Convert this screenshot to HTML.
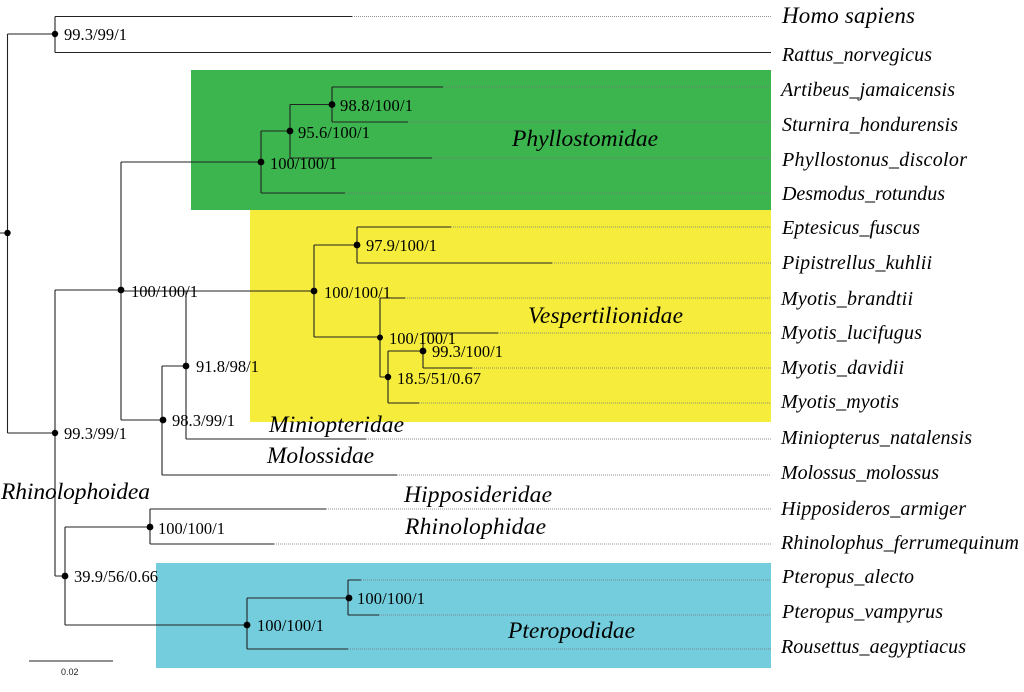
<!DOCTYPE html>
<html><head><meta charset="utf-8"><style>
html,body{margin:0;padding:0;background:#fff;width:1024px;height:692px;overflow:hidden}
svg{display:block}
.s{font-family:"Liberation Serif",serif;font-size:16.5px;fill:#000}
.t{font-family:"Liberation Serif",serif;font-style:italic;font-size:20px;fill:#000}
.f{font-family:"Liberation Serif",serif;font-style:italic;font-size:23.5px;fill:#000}
.l{fill:none;stroke:#222;stroke-width:1.1}
.d{fill:none;stroke:#777;stroke-width:1;stroke-dasharray:1 1;opacity:.8}
</style></head><body>
<svg width="1024" height="692" viewBox="0 0 1024 692" xmlns="http://www.w3.org/2000/svg">
<rect x="191" y="70" width="580" height="140" fill="#3cb54f"/>
<rect x="250" y="210" width="521" height="212" fill="#f5ec3b"/>
<rect x="156" y="563" width="615" height="105" fill="#74cddd"/>

<path class="d" d="M352 16.5H771M443 87H771M408 122H771M432 158H771M345 193H771M451 227H771M552 263H771M405 298H771M498 333H771M472 368H771M419 403H771M366 439H771M397 475H771M326 509H771M274 544H771M361 580H771M379 615H771M348 649H771"/>

<path class="l" d="M0 233H7.5M7.5 34V433M7.5 34H55M55 16.5V52.5M55 16.5H352M55 52.5H771"/>
<path class="l" d="M7.5 433H55M55 290V576M55 290H121M121 162V420M121 162H261M261 131V193M261 131H290M290 104.5V158M290 104.5H332M332 87V122M332 87H443M332 122H408M290 158H432M261 193H345"/>
<path class="l" d="M121 291H314M314 245V337M314 245H357M357 227V263M357 227H451M357 263H552M314 337H380M380 298V377M380 298H405M380 377H388M388 351V403M388 351H423M423 333V368M423 333H498M423 368H472M388 403H419"/>
<path class="l" d="M121 420H162M162 366V475M162 366H186M186 291V439M186 439H366M162 475H397"/>
<path class="l" d="M55 576H65M65 527V625M65 527H150M150 509V544M150 509H326M150 544H274M65 625H247M247 598V649M247 598H348M348 580V615M348 580H361M348 615H379M247 649H348"/>
<path class="l" d="M29 661H113"/>

<g fill="#000">
<circle cx="7.5" cy="233" r="3.2"/><circle cx="55" cy="34" r="3.2"/><circle cx="55" cy="433" r="3.2"/>
<circle cx="121" cy="290" r="3.4"/><circle cx="261" cy="162" r="3.4"/><circle cx="290" cy="131" r="3.4"/>
<circle cx="332" cy="104.5" r="3.4"/><circle cx="314" cy="291" r="3.4"/><circle cx="357" cy="245" r="3.4"/>
<circle cx="380" cy="337.5" r="3"/><circle cx="388" cy="377" r="3.2"/><circle cx="423" cy="351" r="3.4"/>
<circle cx="186" cy="366" r="3.4"/><circle cx="163" cy="420" r="3.4"/><circle cx="65" cy="576" r="3.4"/>
<circle cx="150" cy="527" r="3.4"/><circle cx="247" cy="625" r="3.4"/><circle cx="349" cy="598" r="3.4"/>
</g>

<g class="s">
<text class="s" x="64" y="40" textLength="63" lengthAdjust="spacing">99.3/99/1</text>
<text class="s" x="340" y="111" textLength="73" lengthAdjust="spacing">98.8/100/1</text>
<text class="s" x="298" y="138" textLength="72" lengthAdjust="spacing">95.6/100/1</text>
<text class="s" x="270" y="169" textLength="67" lengthAdjust="spacing">100/100/1</text>
<text class="s" x="366" y="251" textLength="71" lengthAdjust="spacing">97.9/100/1</text>
<text class="s" x="324" y="298" textLength="67" lengthAdjust="spacing">100/100/1</text>
<text class="s" x="131" y="297" textLength="67" lengthAdjust="spacing">100/100/1</text>
<text class="s" x="389" y="344" textLength="67" lengthAdjust="spacing">100/100/1</text>
<text class="s" x="432" y="357" textLength="71" lengthAdjust="spacing">99.3/100/1</text>
<text class="s" x="397" y="384" textLength="84" lengthAdjust="spacing">18.5/51/0.67</text>
<text class="s" x="196" y="372" textLength="63" lengthAdjust="spacing">91.8/98/1</text>
<text class="s" x="172" y="426" textLength="63" lengthAdjust="spacing">98.3/99/1</text>
<text class="s" x="64" y="439" textLength="63" lengthAdjust="spacing">99.3/99/1</text>
<text class="s" x="158" y="534" textLength="67" lengthAdjust="spacing">100/100/1</text>
<text class="s" x="74" y="582" textLength="84" lengthAdjust="spacing">39.9/56/0.66</text>
<text class="s" x="357" y="604" textLength="68" lengthAdjust="spacing">100/100/1</text>
<text class="s" x="257" y="631" textLength="67" lengthAdjust="spacing">100/100/1</text>
</g>

<text class="t" x="782" y="23" style="font-size:23px" textLength="133" lengthAdjust="spacing">Homo sapiens</text>
<text class="t" x="782" y="61" textLength="150" lengthAdjust="spacing">Rattus_norvegicus</text>
<text class="t" x="781" y="96" textLength="174" lengthAdjust="spacing">Artibeus_jamaicensis</text>
<text class="t" x="782" y="131" textLength="176" lengthAdjust="spacing">Sturnira_hondurensis</text>
<text class="t" x="782" y="166" textLength="185" lengthAdjust="spacing">Phyllostonus_discolor</text>
<text class="t" x="782" y="200" textLength="163" lengthAdjust="spacing">Desmodus_rotundus</text>
<text class="t" x="782" y="234" textLength="138" lengthAdjust="spacing">Eptesicus_fuscus</text>
<text class="t" x="782" y="269" textLength="150" lengthAdjust="spacing">Pipistrellus_kuhlii</text>
<text class="t" x="781" y="305" textLength="132" lengthAdjust="spacing">Myotis_brandtii</text>
<text class="t" x="781" y="339" textLength="141" lengthAdjust="spacing">Myotis_lucifugus</text>
<text class="t" x="781" y="374" textLength="123" lengthAdjust="spacing">Myotis_davidii</text>
<text class="t" x="781" y="408" textLength="118" lengthAdjust="spacing">Myotis_myotis</text>
<text class="t" x="781" y="444" textLength="191" lengthAdjust="spacing">Miniopterus_natalensis</text>
<text class="t" x="781" y="479" textLength="158" lengthAdjust="spacing">Molossus_molossus</text>
<text class="t" x="781" y="515" textLength="185" lengthAdjust="spacing">Hipposideros_armiger</text>
<text class="t" x="781" y="549" textLength="238" lengthAdjust="spacing">Rhinolophus_ferrumequinum</text>
<text class="t" x="782" y="583" textLength="132" lengthAdjust="spacing">Pteropus_alecto</text>
<text class="t" x="782" y="618" textLength="161" lengthAdjust="spacing">Pteropus_vampyrus</text>
<text class="t" x="781" y="653" textLength="185" lengthAdjust="spacing">Rousettus_aegyptiacus</text>

<text class="f" x="512" y="146" textLength="146" lengthAdjust="spacing">Phyllostomidae</text>
<text class="f" x="528" y="323" textLength="155" lengthAdjust="spacing">Vespertilionidae</text>
<text class="f" x="269" y="432" textLength="135" lengthAdjust="spacing">Miniopteridae</text>
<text class="f" x="267" y="463" textLength="107" lengthAdjust="spacing">Molossidae</text>
<text class="f" x="1" y="499" textLength="149" lengthAdjust="spacing">Rhinolophoidea</text>
<text class="f" x="404" y="502" textLength="148" lengthAdjust="spacing">Hipposideridae</text>
<text class="f" x="405" y="534" textLength="141" lengthAdjust="spacing">Rhinolophidae</text>
<text class="f" x="508" y="638" textLength="127" lengthAdjust="spacing">Pteropodidae</text>

<text x="61" y="675" font-family="Liberation Sans, sans-serif" font-size="9" fill="#222">0.02</text>
</svg>
</body></html>
